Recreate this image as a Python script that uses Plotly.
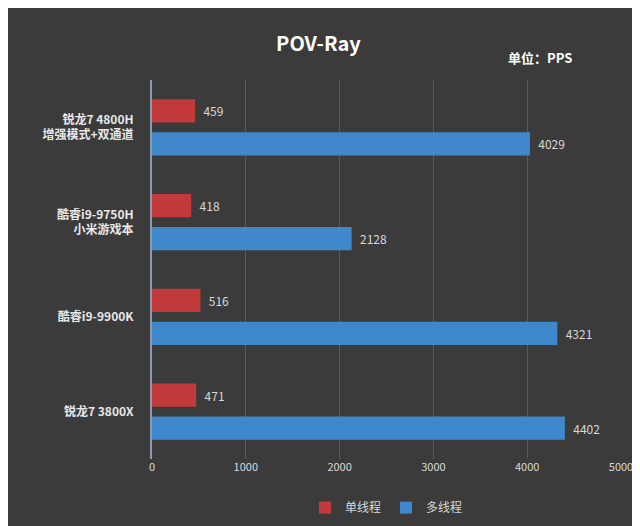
import plotly.graph_objects as go

categories = ["<b>锐龙7 4800H</b><br><b>增强模式+双通道</b>", "<b>酷睿i9-9750H</b><br><b>小米游戏本</b>",
              "<b>酷睿i9-9900K</b>", "<b>锐龙7 3800X</b>"]
single_thread = [459, 418, 516, 471]
multi_thread = [4029, 2128, 4321, 4402]
x_ticks = [0, 1000, 2000, 3000, 4000, 5000]

font = "Noto Sans CJK SC"
fig = go.Figure()
fig.add_trace(go.Bar(
    name="单线程", y=categories, x=single_thread, orientation="h",
    marker=dict(color="#c23a3c", line=dict(width=0)),
    text=["  " + str(v) for v in single_thread], textposition="outside",
    textfont=dict(color="#d9d9d9", size=12),
))
fig.add_trace(go.Bar(
    name="多线程", y=categories, x=multi_thread, orientation="h",
    marker=dict(color="#3f88cc", line=dict(width=0)),
    text=["  " + str(v) for v in multi_thread], textposition="outside",
    textfont=dict(color="#d9d9d9", size=12),
))

fig.update_layout(
    width=640, height=526,
    paper_bgcolor="#3b3b3b", plot_bgcolor="#3b3b3b",
    font=dict(family=font, color="#e0e0e0", size=12),
    title=dict(text="<b>POV-Ray</b>", x=0.485, y=0.945, xanchor="center",
               font=dict(size=20, color="#ffffff")),
    barmode="group", bargap=0.3, bargroupgap=0.3,
    margin=dict(l=144, r=27, t=72, b=72),
    legend=dict(orientation="h", x=0.5, xanchor="center", y=-0.09, yanchor="top",
                font=dict(size=12, color="#d9d9d9")),
    annotations=[dict(text="<b>单位：PPS</b>", x=0.9, xref="paper", y=1.03, yref="paper",
                      xanchor="right", yanchor="bottom", showarrow=False,
                      font=dict(size=13, color="#ffffff"))],
)
fig.update_xaxes(range=[0, 5000], tickvals=x_ticks, showgrid=True, gridcolor="#5a5a5a",
                 zeroline=False, tickfont=dict(color="#d9d9d9", size=11))
fig.update_yaxes(autorange="reversed", showline=True, linecolor="#8a9bb0", linewidth=2,
                 ticks="", ticklabelstandoff=14, tickfont=dict(color="#e8e8e8", size=12))

fig.write_html("out.html")
